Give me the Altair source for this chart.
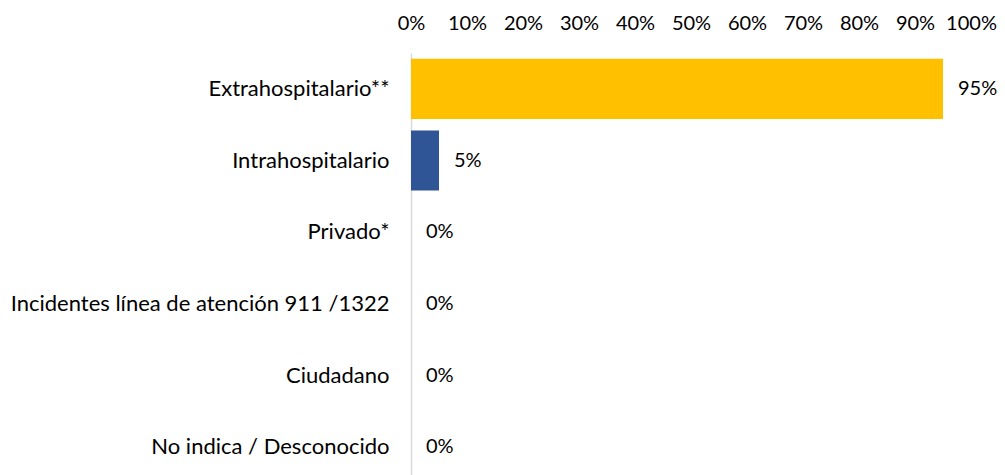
import altair as alt
import pandas as pd

categories = [
    "Extrahospitalario**",
    "Intrahospitalario",
    "Privado*",
    "Incidentes línea de atención 911 /1322",
    "Ciudadano",
    "No indica / Desconocido",
]
values = [0.95, 0.05, 0.0, 0.0, 0.0, 0.0]
colors = ["#FFC000", "#2F5597", "#A5A5A5", "#5B9BD5", "#70AD47", "#ED7D31"]
labels = ["95%", "5%", "0%", "0%", "0%", "0%"]

df = pd.DataFrame({"cat": categories, "val": values, "color": colors, "label": labels})

FONT = "Lato"
FS = 22
NFS = 20

y_enc = alt.Y(
    "cat:N",
    sort=categories,
    scale=alt.Scale(paddingInner=0.16, paddingOuter=0.08),
    axis=alt.Axis(
        title=None,
        ticks=False,
        domain=True,
        domainColor="#D9D9D9",
        domainWidth=1.5,
        labelFont=FONT,
        labelFontSize=FS,
        labelColor="#000000",
        labelPadding=22,
        labelLimit=500,
    ),
)

x_enc = alt.X(
    "val:Q",
    scale=alt.Scale(domain=[0, 1], nice=False),
    axis=alt.Axis(
        orient="top",
        title=None,
        format=".0%",
        values=[i / 10 for i in range(11)],
        ticks=False,
        domain=False,
        grid=False,
        labelFont=FONT,
        labelFontSize=NFS,
        labelColor="#000000",
        labelPadding=20,
        labelFlush=False,
    ),
)

bars = alt.Chart(df).mark_bar().encode(
    x=x_enc,
    y=y_enc,
    color=alt.Color("color:N", scale=None),
)

text = alt.Chart(df).mark_text(
    align="left", baseline="middle", dx=15, font=FONT, fontSize=NFS, color="#000000"
).encode(
    x="val:Q",
    y=alt.Y("cat:N", sort=categories),
    text="label:N",
)

chart = (
    alt.layer(bars, text)
    .properties(
        width=560,
        height=430,
        padding={"left": 403, "top": 45, "right": 26, "bottom": 0},
        autosize=alt.AutoSizeParams(type="none"),
    )
    .configure_view(stroke=None)
)

chart.save("out.html", embed_options={"renderer": "svg", "actions": False})
